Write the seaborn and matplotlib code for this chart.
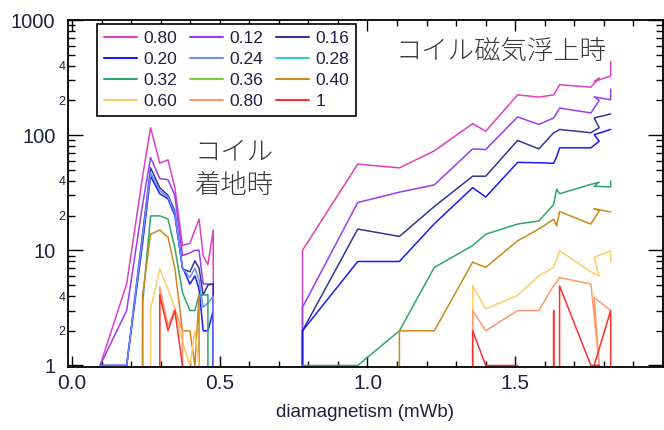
import math

import pandas as pd
import matplotlib
matplotlib.use("Agg")
import matplotlib.pyplot as plt
import seaborn as sns
from matplotlib.lines import Line2D
from matplotlib.ticker import (FormatStrFormatter, FuncFormatter, LogLocator,
                               MultipleLocator)

# ---------------- Data ---------------- #
series_labels = ["0.80", "0.12", "0.16", "0.20", "0.24", "0.28",
                 "0.32", "0.36", "0.40", "0.60", "0.80", "1"]
series_colors = ["#dd40c0", "#9a3cf0", "#353599", "#1a1aff", "#6a8cff", "#33cccc",
                 "#2ea56c", "#78cc40", "#cc8a1a", "#ffcc66", "#ff9a6a", "#ff3030"]

# landing cluster (0.1 - 0.5 mWb)
x_left = [0.095, 0.185, 0.239, 0.266, 0.297, 0.325, 0.348, 0.374,
          0.399, 0.416, 0.430, 0.444, 0.460, 0.478, 0.478]
left_s01 = [1, 5.1, 44, 116, 57, 61, 35, 11, 11.5, 15, 18.7, 9, 7.5, 15, 0]
left_s02 = [1, 3.0, 25, 64, 42, 41, 30, 9, 9.5, 10, 10, 5.1, 5.1, 5.1, 0]
left_s03 = [1, 1, 14, 52, 35, 30, 22, 6.9, 6.5, 8.1, 7, 4.1, 5, 5.1, 0]
left_s04 = [1, 1, 11.6, 44, 31, 28, 20, 7.1, 5.1, 6, 4.6, 2.0, 2.0, 3.0, 0]
left_s05 = [1, 1, 13, 47, 33, 29, 21, 7, 5.8, 7, 5.5, 3.2, 3.5, 4, 0]
left_s07 = [0, 0, 3.5, 19.9, 19.9, 18.7, 10.5, 4.3, 3.0, 3.0, 4.1, 4.1, 4.1, 0, 0]
left_s09 = [0, 0, 4.1, 13.8, 15, 13, 7, 2.0, 2.0, 1, 4.1, 0, 0, 0, 0]
left_s10 = [0, 0, 0, 3.1, 6.9, 4.6, 3.1, 1.6, 1, 2.0, 1, 0, 0, 0, 0]
left_s11 = [0, 0, 0, 0, 4.8, 2.2, 3.1, 2.0, 0, 0, 0, 0, 0, 0, 0]
left_s12 = [0, 0, 0, 0, 4.1, 2.0, 3.0, 1, 0, 0, 0, 0, 0, 0, 0]

# levitation cluster (0.78 - 1.82 mWb)
x_right = [0.78, 0.78, 0.967, 1.108, 1.226, 1.356, 1.40, 1.508, 1.58,
           1.63, 1.64, 1.65, 1.756, 1.784, 1.767, 1.823, 1.823]
right_s01 = [0, 10, 56, 52, 73, 126, 108, 224, 214, 224, 245, 274, 261, 313, 292, 327, 435]
right_s02 = [0, 3.2, 26, 32, 37, 76, 75, 144, 124, 141, 155, 172, 156, 200, 215, 203, 251]
right_s03 = [0, 2.0, 15.3, 13.2, 24, 44, 44, 90, 76, 105, 108, 112, 105, 116, 141, 153, 153]
right_s04 = [0, 2.0, 8, 8, 17, 35, 29, 58, 57.6, 57, 65, 77.6, 77.6, 88.6, 101, 112, 112]
right_s07 = [1, 1, 1, 2.0, 7.1, 11, 13.8, 16.9, 18, 25, 34, 31, 37.4, 39, 36, 35.5, 40]
right_s09 = [0, 0, 0, 2.0, 2.0, 7.9, 7.1, 12.1, 15.3, 18.6, 16.3, 21.7, 16.9, 22, 23, 21.5, 21.5]
right_s10 = [0, 0, 0, 0, 0, 4.95, 3.1, 4.06, 6.0, 7.1, 8.3, 9.9, 6.5, 6.0, 8.7, 9.9, 7.9]
right_s11 = [0, 0, 0, 0, 0, 3.0, 2.0, 3.0, 3.0, 4.95, 5.3, 5.8, 5.1, 1, 3.9, 3.0, 3.0]
right_s12 = [0, 0, 0, 0, 0, 2.0, 1, 1, 0, 3.0, 0, 4.9, 1, 1, 1, 3.0, 0]

segments = [
    ("s01", "L", x_left, left_s01), ("s01", "R", x_right, right_s01),
    ("s02", "L", x_left, left_s02), ("s02", "R", x_right, right_s02),
    ("s03", "L", x_left, left_s03), ("s03", "R", x_right, right_s03),
    ("s04", "L", x_left, left_s04), ("s04", "R", x_right, right_s04),
    ("s05", "L", x_left, left_s05),
    ("s07", "L", x_left, left_s07), ("s07", "R", x_right, right_s07),
    ("s09", "L", x_left, left_s09), ("s09", "R", x_right, right_s09),
    ("s10", "L", x_left, left_s10), ("s10", "R", x_right, right_s10),
    ("s11", "L", x_left, left_s11), ("s11", "R", x_right, right_s11),
    ("s12", "L", x_left, left_s12), ("s12", "R", x_right, right_s12),
]

df = pd.concat(
    [pd.DataFrame({"x": xs, "y": ys, "series": sid, "segment": seg})
     for sid, seg, xs, ys in segments],
    ignore_index=True,
)

series_ids = [f"s{i + 1:02d}" for i in range(len(series_labels))]
palette = dict(zip(series_ids, series_colors))
present = [s for s in series_ids if s in set(df["series"])]

# ---------------- Style ---------------- #
sns.set_style("ticks")
plt.rcParams["font.family"] = ["Liberation Sans", "Noto Sans CJK JP"]
TXT = "#202040"

fig = plt.figure(figsize=(6.64, 4.30), dpi=100)
ax = fig.add_axes([68 / 664, 63 / 430, 595 / 664, 347 / 430])

sns.lineplot(data=df, x="x", y="y", hue="series", units="segment",
             estimator=None, sort=False, palette=palette, hue_order=present,
             legend=False, linewidth=1.1, ax=ax)

ax.set_yscale("log")
ax.set_ylim(0.97, 1000)   # a hair below 1 so lines sitting at 1 stay visible
ax.set_xlim(-0.0135, 2.0)

# ---------------- Ticks ---------------- #
ax.set_xticks([0, 0.5, 1.0, 1.5])
ax.xaxis.set_major_formatter(FormatStrFormatter("%.1f"))
ax.xaxis.set_minor_locator(MultipleLocator(0.1))

ax.yaxis.set_major_locator(LogLocator(base=10, numticks=10))
ax.yaxis.set_minor_locator(LogLocator(base=10, subs=range(2, 10), numticks=20))
ax.yaxis.set_major_formatter(FuncFormatter(lambda v, p: f"{v:g}"))


def minor_label(v, pos):
    m = int(round(v / 10 ** math.floor(math.log10(v) + 1e-9)))
    return str(m) if m in (2, 4) else ""


ax.yaxis.set_minor_formatter(FuncFormatter(minor_label))

ax.tick_params(which="both", direction="in", top=True, right=True,
               color="black", labelcolor=TXT)
ax.tick_params(axis="x", which="major", length=8, width=1, labelsize=15, pad=5)
ax.tick_params(axis="x", which="minor", length=4, width=1)
ax.tick_params(axis="y", which="major", length=11, width=1, labelsize=14.5, pad=9)
ax.tick_params(axis="y", which="minor", length=5, width=1, labelsize=9, pad=2)

for s in ax.spines.values():
    s.set_color("black")
    s.set_linewidth(1.3)

ax.set_xlabel("diamagnetism (mWb)", fontsize=13.5, color=TXT, labelpad=8)
ax.set_ylabel("")

# ---------------- Annotations ---------------- #
fig.text(501 / 664, 1 - 51 / 430, "コイル磁気浮上時", ha="center", va="center",
         fontsize=19, fontweight="light", family=["Noto Sans CJK JP"], color="#3a3a3a")
fig.text(195 / 664, 1 - 168 / 430, "コイル\n着地時", ha="left", va="center",
         fontsize=19, fontweight="light", linespacing=1.25,
         family=["Noto Sans CJK JP"], color="#3a3a3a")

# ---------------- Legend (row-major, 3 columns) ---------------- #
handles = [Line2D([], [], color=c, lw=1.5) for c in series_colors]
order = [r * 3 + c for c in range(3) for r in range(4)]
leg = ax.legend([handles[i] for i in order], [series_labels[i] for i in order],
                ncol=3, loc="upper left", bbox_to_anchor=(0.0487, 0.988),
                borderaxespad=0, fontsize=12.5, handlelength=1.9,
                handletextpad=0.4, columnspacing=0.7, labelspacing=0.33,
                borderpad=0.4, frameon=True, fancybox=False,
                edgecolor="black", framealpha=1)
leg.get_frame().set_linewidth(1.2)
for t in leg.get_texts():
    t.set_color(TXT)

fig.savefig("out.png", dpi=100)
